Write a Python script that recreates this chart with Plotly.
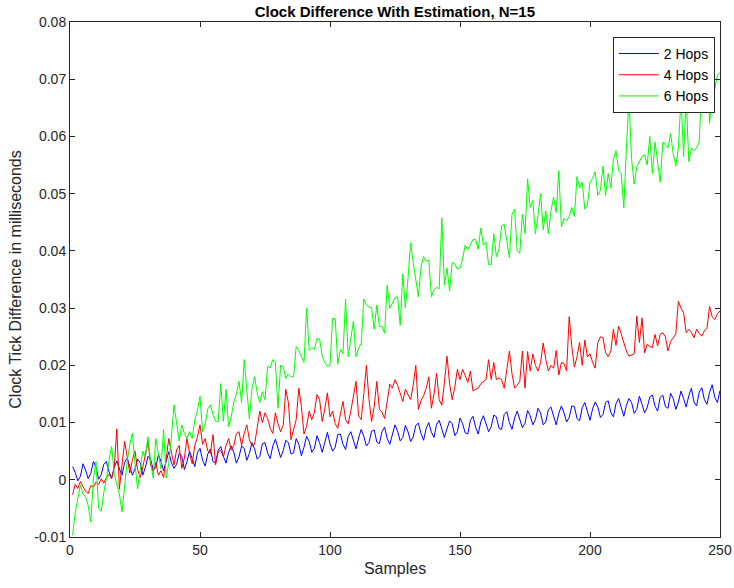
import plotly.graph_objects as go

# Sample index for every series
samples = list(range(1, 251))

# Clock tick difference (ms) after estimation, 2 hops
hops2 = [
    0.0023, 0.0013, -0.0002, 0.0006, 0.0028, 0.0017, 0.0002, 0.0011, 0.0032, 0.0022,
    0.0001, 0.0009, 0.0027, 0.0032, 0.0014, 0.0003, 0.0022, 0.0033, 0.0019, 0.0008,
    0.0030, 0.0038, 0.0023, 0.0008, 0.0019, 0.0036, 0.0030, 0.0008, 0.0022, 0.0041,
    0.0036, 0.0017, 0.0021, 0.0044, 0.0032, 0.0016, 0.0032, 0.0049, 0.0030, 0.0020,
    0.0027, 0.0046, 0.0041, 0.0018, 0.0032, 0.0050, 0.0037, 0.0023, 0.0047, 0.0055,
    0.0034, 0.0024, 0.0045, 0.0054, 0.0032, 0.0029, 0.0052, 0.0058, 0.0041, 0.0029,
    0.0048, 0.0059, 0.0048, 0.0029, 0.0040, 0.0059, 0.0055, 0.0034, 0.0046, 0.0065,
    0.0054, 0.0036, 0.0041, 0.0063, 0.0065, 0.0047, 0.0037, 0.0059, 0.0071, 0.0055,
    0.0039, 0.0051, 0.0069, 0.0065, 0.0045, 0.0047, 0.0072, 0.0062, 0.0042, 0.0057,
    0.0076, 0.0067, 0.0048, 0.0055, 0.0077, 0.0065, 0.0048, 0.0065, 0.0083, 0.0063,
    0.0050, 0.0057, 0.0079, 0.0080, 0.0062, 0.0053, 0.0076, 0.0084, 0.0069, 0.0054,
    0.0073, 0.0088, 0.0076, 0.0059, 0.0065, 0.0085, 0.0087, 0.0066, 0.0063, 0.0084,
    0.0092, 0.0072, 0.0062, 0.0081, 0.0096, 0.0085, 0.0068, 0.0074, 0.0095, 0.0084,
    0.0067, 0.0075, 0.0095, 0.0099, 0.0081, 0.0069, 0.0090, 0.0100, 0.0083, 0.0074,
    0.0097, 0.0104, 0.0087, 0.0074, 0.0089, 0.0103, 0.0098, 0.0077, 0.0084, 0.0108,
    0.0098, 0.0082, 0.0080, 0.0104, 0.0111, 0.0092, 0.0080, 0.0101, 0.0112, 0.0099,
    0.0084, 0.0093, 0.0113, 0.0110, 0.0090, 0.0088, 0.0114, 0.0119, 0.0100, 0.0088,
    0.0108, 0.0120, 0.0107, 0.0091, 0.0099, 0.0121, 0.0112, 0.0096, 0.0105, 0.0125,
    0.0117, 0.0096, 0.0101, 0.0123, 0.0127, 0.0109, 0.0096, 0.0116, 0.0129, 0.0117,
    0.0101, 0.0109, 0.0129, 0.0128, 0.0107, 0.0103, 0.0126, 0.0135, 0.0118, 0.0104,
    0.0124, 0.0136, 0.0127, 0.0109, 0.0114, 0.0135, 0.0138, 0.0118, 0.0110, 0.0133,
    0.0142, 0.0124, 0.0111, 0.0130, 0.0142, 0.0135, 0.0116, 0.0123, 0.0146, 0.0132,
    0.0117, 0.0126, 0.0145, 0.0148, 0.0129, 0.0120, 0.0144, 0.0148, 0.0128, 0.0125,
    0.0151, 0.0142, 0.0123, 0.0136, 0.0155, 0.0142, 0.0127, 0.0147, 0.0160, 0.0136,
    0.0129, 0.0153, 0.0161, 0.0140, 0.0132, 0.0153, 0.0166, 0.0144, 0.0135, 0.0156,
]

# Clock tick difference (ms) after estimation, 4 hops
hops4 = [
    -0.0026, -0.0008, -0.0015, -0.0003, -0.0012, -0.0020, -0.0024, -0.0010, -0.0013, -0.0004,
    -0.0009, 0.0002, -0.0006, 0.0004, 0.0010, 0.0002, 0.0020, 0.0089, -0.0016, 0.0030,
    0.0067, 0.0040, 0.0012, 0.0035, 0.0050, 0.0018, 0.0004, 0.0022, 0.0045, 0.0067,
    0.0026, 0.0014, 0.0030, 0.0008, 0.0016, 0.0004, 0.0038, 0.0072, 0.0048, 0.0026,
    0.0052, 0.0060, 0.0020, 0.0038, 0.0072, 0.0046, 0.0028, 0.0060, 0.0074, 0.0096,
    0.0062, 0.0072, 0.0050, 0.0046, 0.0079, 0.0026, 0.0049, 0.0052, 0.0040, 0.0060,
    0.0072, 0.0052, 0.0060, 0.0081, 0.0084, 0.0060, 0.0081, 0.0096, 0.0070, 0.0060,
    0.0062, 0.0095, 0.0120, 0.0100, 0.0117, 0.0107, 0.0090, 0.0081, 0.0117, 0.0098,
    0.0084, 0.0095, 0.0158, 0.0135, 0.0070, 0.0088, 0.0105, 0.0160, 0.0128, 0.0080,
    0.0093, 0.0120, 0.0105, 0.0118, 0.0149, 0.0140, 0.0102, 0.0124, 0.0152, 0.0110,
    0.0120, 0.0098, 0.0090, 0.0115, 0.0137, 0.0105, 0.0098, 0.0120, 0.0145, 0.0172,
    0.0112, 0.0105, 0.0150, 0.0200, 0.0140, 0.0102, 0.0128, 0.0172, 0.0123, 0.0118,
    0.0107, 0.0135, 0.0167, 0.0160, 0.0175, 0.0165, 0.0150, 0.0137, 0.0158, 0.0150,
    0.0140, 0.0165, 0.0200, 0.0123, 0.0138, 0.0147, 0.0160, 0.0180, 0.0125, 0.0150,
    0.0186, 0.0140, 0.0130, 0.0170, 0.0216, 0.0168, 0.0140, 0.0162, 0.0193, 0.0175,
    0.0193, 0.0182, 0.0170, 0.0190, 0.0155, 0.0158, 0.0160, 0.0168, 0.0172, 0.0175,
    0.0210, 0.0175, 0.0205, 0.0175, 0.0178, 0.0175, 0.0160, 0.0190, 0.0225, 0.0185,
    0.0160, 0.0165, 0.0172, 0.0225, 0.0160, 0.0224, 0.0190, 0.0220, 0.0200, 0.0190,
    0.0205, 0.0239, 0.0210, 0.0190, 0.0200, 0.0195, 0.0226, 0.0183, 0.0205, 0.0203,
    0.0190, 0.0285, 0.0233, 0.0197, 0.0215, 0.0240, 0.0200, 0.0244, 0.0215, 0.0220,
    0.0205, 0.0195, 0.0240, 0.0250, 0.0248, 0.0222, 0.0215, 0.0225, 0.0263, 0.0235,
    0.0268, 0.0255, 0.0240, 0.0225, 0.0216, 0.0218, 0.0220, 0.0286, 0.0240, 0.0283,
    0.0222, 0.0237, 0.0233, 0.0231, 0.0254, 0.0234, 0.0254, 0.0257, 0.0250, 0.0225,
    0.0242, 0.0248, 0.0255, 0.0312, 0.0300, 0.0292, 0.0257, 0.0263, 0.0258, 0.0248,
    0.0263, 0.0256, 0.0251, 0.0260, 0.0265, 0.0303, 0.0285, 0.0280, 0.0290, 0.0295,
]

# Clock tick difference (ms) after estimation, 6 hops
hops6 = [
    -0.0097, -0.0058, -0.0033, -0.0009, -0.0025, -0.0030, -0.0045, -0.0074, 0.0002, 0.0032,
    -0.0050, -0.0055, -0.0022, 0.0002, 0.0034, 0.0058, 0.0011, -0.0008, -0.0025, -0.0056,
    -0.0012, 0.0032, 0.0061, 0.0081, 0.0028, -0.0016, 0.0017, 0.0050, 0.0041, 0.0075,
    0.0032, 0.0003, 0.0072, 0.0046, 0.0019, 0.0088, 0.0003, 0.0030, 0.0074, 0.0131,
    0.0095, 0.0068, 0.0096, 0.0081, 0.0072, 0.0084, 0.0072, 0.0105, 0.0121, 0.0146,
    0.0084, 0.0098, 0.0124, 0.0131, 0.0114, 0.0102, 0.0102, 0.0168, 0.0102, 0.0158,
    0.0093, 0.0110, 0.0135, 0.0150, 0.0172, 0.0135, 0.0210, 0.0160, 0.0106, 0.0160,
    0.0180, 0.0152, 0.0135, 0.0154, 0.0140, 0.0198, 0.0196, 0.0210, 0.0205, 0.0125,
    0.0200, 0.0198, 0.0177, 0.0185, 0.0180, 0.0180, 0.0233, 0.0226, 0.0214, 0.0205,
    0.0300, 0.0226, 0.0231, 0.0228, 0.0247, 0.0246, 0.0216, 0.0205, 0.0198, 0.0200,
    0.0282, 0.0282, 0.0202, 0.0228, 0.0220, 0.0316, 0.0215, 0.0246, 0.0277, 0.0215,
    0.0230, 0.0238, 0.0316, 0.0305, 0.0302, 0.0300, 0.0263, 0.0305, 0.0268, 0.0268,
    0.0256, 0.0340, 0.0300, 0.0309, 0.0318, 0.0320, 0.0270, 0.0360, 0.0300, 0.0352,
    0.0414, 0.0380, 0.0352, 0.0320, 0.0372, 0.0390, 0.0382, 0.0384, 0.0320, 0.0332,
    0.0336, 0.0334, 0.0458, 0.0340, 0.0370, 0.0330, 0.0380, 0.0377, 0.0368, 0.0370,
    0.0386, 0.0410, 0.0402, 0.0410, 0.0420, 0.0420, 0.0403, 0.0440, 0.0410, 0.0416,
    0.0376, 0.0376, 0.0430, 0.0390, 0.0403, 0.0444, 0.0446, 0.0418, 0.0388, 0.0464,
    0.0473, 0.0400, 0.0396, 0.0464, 0.0430, 0.0526, 0.0476, 0.0488, 0.0430, 0.0462,
    0.0500, 0.0437, 0.0470, 0.0430, 0.0470, 0.0494, 0.0467, 0.0540, 0.0442, 0.0457,
    0.0452, 0.0460, 0.0476, 0.0460, 0.0530, 0.0510, 0.0520, 0.0473, 0.0480, 0.0520,
    0.0527, 0.0538, 0.0497, 0.0506, 0.0548, 0.0497, 0.0535, 0.0510, 0.0560, 0.0575,
    0.0540, 0.0535, 0.0475, 0.0580, 0.0663, 0.0560, 0.0517, 0.0547, 0.0556, 0.0565,
    0.0568, 0.0550, 0.0600, 0.0535, 0.0590, 0.0550, 0.0520, 0.0590, 0.0586, 0.0580,
    0.0605, 0.0570, 0.0548, 0.0580, 0.0668, 0.0565, 0.0668, 0.0556, 0.0580, 0.0575,
    0.0580, 0.0590, 0.0690, 0.0725, 0.0754, 0.0623, 0.0670, 0.0683, 0.0707, 0.0712,
]

series_names = ["2 Hops", "4 Hops", "6 Hops"]
series_colors = ["#0000ff", "#ff0000", "#00ff00"]

x_ticks = [0, 50, 100, 150, 200, 250]
y_ticks = [-0.01, 0, 0.01, 0.02, 0.03, 0.04, 0.05, 0.06, 0.07, 0.08]
y_tick_text = ["-0.01", "0", "0.01", "0.02", "0.03", "0.04", "0.05", "0.06", "0.07", "0.08"]

FONT = "Liberation Sans, Arial, Helvetica, sans-serif"
AXIS_COLOR = "#262626"

fig = go.Figure()
for name, color, ys in zip(series_names, series_colors, [hops2, hops4, hops6]):
    fig.add_trace(go.Scatter(
        x=samples, y=ys, mode="lines", name=name,
        line=dict(color=color, width=1),
    ))

axis_common = dict(
    showgrid=False, zeroline=False, automargin=False,
    showline=True, linecolor=AXIS_COLOR, linewidth=1, mirror="ticks",
    ticks="inside", ticklen=5, tickwidth=1, tickcolor=AXIS_COLOR,
    tickfont=dict(family=FONT, size=14, color=AXIS_COLOR),
)

fig.update_layout(
    width=734, height=588,
    margin=dict(l=70, r=14, t=22, b=51),
    paper_bgcolor="white", plot_bgcolor="white",
    title=dict(
        text="<b>Clock Difference With Estimation, N=15</b>",
        x=0.538, xanchor="center", y=0.98, yanchor="middle",
        font=dict(family=FONT, size=15, color="black"),
    ),
    xaxis=dict(
        range=[0, 250], tickvals=x_ticks,
        title=dict(text="Samples", font=dict(family=FONT, size=16, color=AXIS_COLOR), standoff=6),
        **axis_common,
    ),
    yaxis=dict(
        range=[-0.01, 0.08], tickvals=y_ticks, ticktext=y_tick_text,
        title=dict(text="Clock Tick Difference in milliseconds",
                   font=dict(family=FONT, size=16, color=AXIS_COLOR), standoff=8),
        **axis_common,
    ),
    legend=dict(
        x=0.992, y=0.971, xanchor="right", yanchor="top",
        bgcolor="white", bordercolor=AXIS_COLOR, borderwidth=1,
        font=dict(family=FONT, size=14, color="black"),
        tracegroupgap=0, itemwidth=40,
    ),
    showlegend=True,
)

fig.write_html("out.html")
